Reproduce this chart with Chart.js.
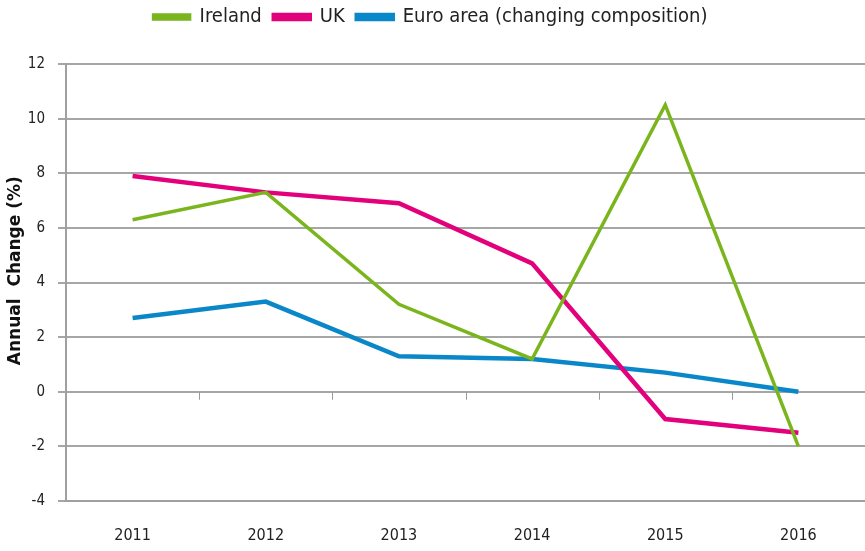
<!DOCTYPE html>
<html>
<head>
<meta charset="utf-8">
<script src="https://cdn.jsdelivr.net/npm/chart.js@4/dist/chart.umd.min.js"></script>
<style>
    html, body { margin: 0; padding: 0; background: #fff; }
    #wrap { width: 865px; height: 551px; }
</style>
</head>
<body>
<div id="wrap"><canvas id="chart"></canvas></div>
<script>
const years = ["2011", "2012", "2013", "2014", "2015", "2016"];
const ireland = [6.3, 7.3, 3.2, 1.2, 10.5, -2.0];
const uk = [7.9, 7.3, 6.9, 4.7, -1.0, -1.5];
const euroArea = [2.7, 3.3, 1.3, 1.2, 0.7, 0.0];

const narrowFont = "'Liberation Sans Narrow', 'DejaVu Sans Condensed', sans-serif";

// Legend: fixed height, drawn a bit higher than Chart.js would put it.
const legendTweak = {
    id: "legendTweak",
    beforeInit(chart) {
        const legend = chart.legend;
        const fit = legend.fit;
        legend.fit = function() {
            fit.call(this);
            this.height = 64;
        };
        const draw = legend.draw;
        legend.draw = function() {
            this.ctx.save();
            this.ctx.translate(-2, -5);
            draw.call(this);
            this.ctx.restore();
        };
    }
};

// Small tick marks hanging off the zero line, between the years.
const zeroTicks = {
    id: "zeroTicks",
    afterDatasetsDraw(chart) {
        const x = chart.scales.x;
        const y0 = chart.scales.y.getPixelForValue(0);
        const step = x.getPixelForValue(1) - x.getPixelForValue(0);
        const ctx = chart.ctx;
        ctx.save();
        ctx.strokeStyle = "#9a9a9a";
        ctx.lineWidth = 1;
        for (let i = 0; i < years.length - 1; i++) {
            const px = Math.round(x.getPixelForValue(i) + step / 2) + 0.5;
            ctx.beginPath();
            ctx.moveTo(px, y0);
            ctx.lineTo(px, y0 + 8);
            ctx.stroke();
        }
        ctx.restore();
    }
};

new Chart(
    document.getElementById("chart"),
    {
        type: "line",
        data: {
            labels: years,
            datasets: [
                { label: "Ireland", data: ireland, borderColor: "#7ab51d", backgroundColor: "#7ab51d", borderWidth: 3.5 },
                { label: "UK", data: uk, borderColor: "#e3007b", backgroundColor: "#e3007b", borderWidth: 4.5 },
                { label: "Euro area (changing composition)", data: euroArea, borderColor: "#0a87c9", backgroundColor: "#0a87c9", borderWidth: 4.5 }
            ]
        },
        options: {
            responsive: true,
            maintainAspectRatio: false,
            animation: false,
            elements: {
                point: { radius: 0 },
                line: { tension: 0, borderCapStyle: "butt" }
            },
            layout: { padding: 0 },
            plugins: {
                legend: {
                    position: "top",
                    labels: {
                        boxWidth: 36,
                        boxHeight: 4,
                        padding: 12,
                        color: "#222",
                        font: { family: narrowFont, size: 20 }
                    }
                },
                tooltip: { enabled: false }
            },
            scales: {
                x: {
                    offset: true,
                    grid: { display: false, drawTicks: false },
                    border: { color: "#a0a0a0", width: 2 },
                    ticks: {
                        padding: 25,
                        color: "#222",
                        font: { family: narrowFont, size: 16 }
                    },
                    afterFit(scale) {
                        scale.height = 50;
                    }
                },
                y: {
                    min: -4,
                    max: 12,
                    grid: { color: "#a6a6a6", lineWidth: 2, tickLength: 8 },
                    border: { color: "#a0a0a0", width: 2 },
                    ticks: {
                        stepSize: 2,
                        padding: 13,
                        color: "#222",
                        font: { family: narrowFont, size: 15 }
                    },
                    title: {
                        display: true,
                        text: "    Annual  Change (%)",
                        color: "#111",
                        font: { family: "'DejaVu Sans', sans-serif", size: 17, weight: "bold" },
                        padding: { top: 5, bottom: 4 }
                    },
                    afterFit(scale) {
                        scale.width = 66;
                    }
                }
            }
        },
        plugins: [legendTweak, zeroTicks]
    }
);
</script>
</body>
</html>
